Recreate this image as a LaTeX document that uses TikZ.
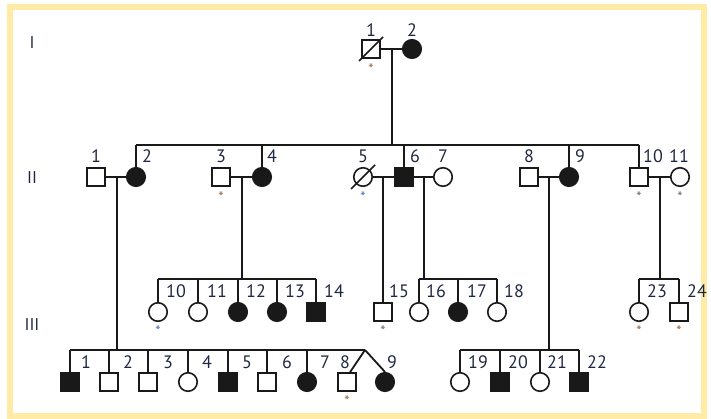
\documentclass[tikz,border=0pt]{standalone}
\usepackage{fontspec}
\setmainfont{PT Sans}
\usetikzlibrary{calc}
\definecolor{framecol}{HTML}{FFEBA6}
\definecolor{numcol}{HTML}{1E2840}
\definecolor{starbrown}{HTML}{9B6B43}
\definecolor{starblue}{HTML}{4A78B5}
\definecolor{stargray}{HTML}{707070}
\begin{document}
\begin{tikzpicture}[x=1pt,y=-1pt,
  pline/.style={line width=1.8pt, draw=black!90},
  sym/.style={draw=black!90, line width=1.6pt, inner sep=0pt, fill=white},
  male/.style={sym, rectangle, minimum size=18pt},
  female/.style={sym, circle, minimum size=18.5pt},
  aff/.style={fill=black!90},
  num/.style={font=\fontsize{18}{18}\selectfont, text=numcol, inner sep=0pt},
  gen/.style={font=\fontsize{17}{17}\selectfont, text=numcol, inner sep=0pt},
  star/.style={font=\fontsize{15}{15}\selectfont, inner sep=0pt},
  dead/.style={pline, line width=1.5pt}]

\useasboundingbox (0,0) rectangle (711,419);
\draw[framecol, line width=6pt] (10,7) rectangle (704,416);

% generation numerals
\node[gen] (gI) at (32,43) {I};
\node[gen] (gII) at (32,178) {II};
\node[gen] (gIII) at (32,325) {III};

% levels of the sibship lines
\coordinate (sII) at (0,145);
\coordinate (sIIIa) at (0,279);
\coordinate (sIIIb) at (0,350);

% ---------- generation I ----------
\node[male] (i1) at (371,49) {};
\node[female, aff] (i2) at (412,49) {};
\draw[dead] ($(i1)+(-12,12)$) -- ($(i1)+(12,-12)$);
\draw[pline] (i1) -- (i2);
\coordinate (mI) at (392,49);

% ---------- generation II ----------
\node[male] (ii1) at (96,177) {};
\node[female, aff] (ii2) at (136,177) {};
\node[male] (ii3) at (221,177) {};
\node[female, aff] (ii4) at (262,177) {};
\node[female] (ii5) at (363,177) {};
\node[male, aff] (ii6) at (404,177) {};
\node[female] (ii7) at (443,177) {};
\node[male] (ii8) at (529,177) {};
\node[female, aff] (ii9) at (569,177) {};
\node[male] (ii10) at (639,177) {};
\node[female] (ii11) at (680,177) {};
\draw[dead] ($(ii5)+(-12,12)$) -- ($(ii5)+(12,-12)$);

\draw[pline] (mI) -- (mI |- sII);
\draw[pline] (ii2.north |- sII) -- (ii10.north |- sII);
\foreach \p in {ii2,ii4,ii6,ii9,ii10}
  \draw[pline] (\p.north |- sII) -- (\p.north);

% couples
\draw[pline] (ii1) -- (ii2);
\draw[pline] (ii3) -- (ii4);
\draw[pline] (ii5) -- (ii6);
\draw[pline] (ii6) -- (ii7);
\draw[pline] (ii8) -- (ii9);
\draw[pline] (ii10) -- (ii11);
\coordinate (m12) at (117,177);
\coordinate (m34) at (242,177);
\coordinate (m56) at (383,177);
\coordinate (m67) at (424,177);
\coordinate (m89) at (549,177);
\coordinate (m1011) at (660,177);

% ---------- generation III, upper row ----------
\node[female] (t10) at (158,312) {};
\node[female] (t11) at (198,312) {};
\node[female, aff] (t12) at (238,312) {};
\node[female, aff] (t13) at (277,312) {};
\node[male, aff] (t14) at (316,312) {};
\node[male] (t15) at (383,312) {};
\node[female] (t16) at (419,312) {};
\node[female, aff] (t17) at (458,312) {};
\node[female] (t18) at (497,312) {};
\node[female] (t23) at (639,312) {};
\node[male] (t24) at (679,312) {};

\draw[pline] (m34) -- (m34 |- sIIIa);
\draw[pline] (t10.north |- sIIIa) -- (t14.north |- sIIIa);
\foreach \p in {t10,t11,t12,t13,t14}
  \draw[pline] (\p.north |- sIIIa) -- (\p.north);
\draw[pline] (m56) -- (m56 |- t15.north);
\draw[pline] (m67) -- (m67 |- sIIIa);
\draw[pline] (t16.north |- sIIIa) -- (t18.north |- sIIIa);
\foreach \p in {t16,t17,t18}
  \draw[pline] (\p.north |- sIIIa) -- (\p.north);
\draw[pline] (m1011) -- (m1011 |- sIIIa);
\draw[pline] (t23.north |- sIIIa) -- (t24.north |- sIIIa);
\foreach \p in {t23,t24}
  \draw[pline] (\p.north |- sIIIa) -- (\p.north);

% ---------- generation III, lower row ----------
\node[male, aff] (b1) at (70,382) {};
\node[male] (b2) at (109,382) {};
\node[male] (b3) at (148,382) {};
\node[female] (b4) at (188,382) {};
\node[male, aff] (b5) at (228,382) {};
\node[male] (b6) at (267,382) {};
\node[female, aff] (b7) at (307,382) {};
\node[male] (b8) at (347,382) {};
\node[female, aff] (b9) at (385,382) {};
\node[female] (b19) at (460,382) {};
\node[male, aff] (b20) at (500,382) {};
\node[female] (b21) at (540,382) {};
\node[male, aff] (b22) at (579,382) {};

\coordinate (tw) at (365,350);
\draw[pline] (m12) -- (m12 |- sIIIb);
\draw[pline] (b1.north |- sIIIb) -- (tw);
\foreach \p in {b1,b2,b3,b4,b5,b6,b7}
  \draw[pline] (\p.north |- sIIIb) -- (\p.north);
\draw[pline] (tw) -- ($(b8.north)+(3,0)$);
\draw[pline] (tw) -- (b9.north);
\draw[pline] (m89) -- (m89 |- sIIIb);
\draw[pline] (b19.north |- sIIIb) -- (b22.north |- sIIIb);
\foreach \p in {b19,b20,b21,b22}
  \draw[pline] (\p.north |- sIIIb) -- (\p.north);

% ---------- individual numbers ----------
\node[num] (n-i1) at (371,30) {1};
\node[num] (n-i2) at (412,30) {2};

\node[num] (n-ii1) at (96,156) {1};
\node[num] (n-ii2) at (147,156) {2};
\node[num] (n-ii3) at (221,156) {3};
\node[num] (n-ii4) at (272,156) {4};
\node[num] (n-ii5) at (363,156) {5};
\node[num] (n-ii6) at (415,156) {6};
\node[num] (n-ii7) at (443,156) {7};
\node[num] (n-ii8) at (529,156) {8};
\node[num] (n-ii9) at (580,156) {9};
\node[num] (n-ii10) at (653,156) {10};
\node[num] (n-ii11) at (679,156) {11};

\node[num] (n-t10) at (176,291) {10};
\node[num] (n-t11) at (217,291) {11};
\node[num] (n-t12) at (256,291) {12};
\node[num] (n-t13) at (295,291) {13};
\node[num] (n-t14) at (334,291) {14};
\node[num] (n-t15) at (399,291) {15};
\node[num] (n-t16) at (436,291) {16};
\node[num] (n-t17) at (477,291) {17};
\node[num] (n-t18) at (514,291) {18};
\node[num] (n-t23) at (657,291) {23};
\node[num] (n-t24) at (697,291) {24};

\node[num] (n-b1) at (86,362) {1};
\node[num] (n-b2) at (128,362) {2};
\node[num] (n-b3) at (168,362) {3};
\node[num] (n-b4) at (207,362) {4};
\node[num] (n-b5) at (247,362) {5};
\node[num] (n-b6) at (287,362) {6};
\node[num] (n-b7) at (325,362) {7};
\node[num] (n-b8) at (345,362) {8};
\node[num] (n-b9) at (392,362) {9};
\node[num] (n-b19) at (478,362) {19};
\node[num] (n-b20) at (518,362) {20};
\node[num] (n-b21) at (557,362) {21};
\node[num] (n-b22) at (597,362) {22};

% ---------- asterisks ----------
\node[star, text=starbrown] (a-i1) at (371,69) {*};
\node[star, text=starbrown] (a-ii3) at (221,197) {*};
\node[star, text=starblue] (a-ii5) at (363,197) {*};
\node[star, text=stargray] (a-ii10) at (639,197) {*};
\node[star, text=stargray] (a-ii11) at (680,197) {*};
\node[star, text=starblue] (a-t10) at (158,331) {*};
\node[star, text=stargray] (a-t15) at (383,331) {*};
\node[star, text=starbrown] (a-t23) at (639,331) {*};
\node[star, text=starbrown] (a-t24) at (679,331) {*};
\node[star, text=starbrown] (a-b8) at (347,401) {*};
\end{tikzpicture}
\end{document}
